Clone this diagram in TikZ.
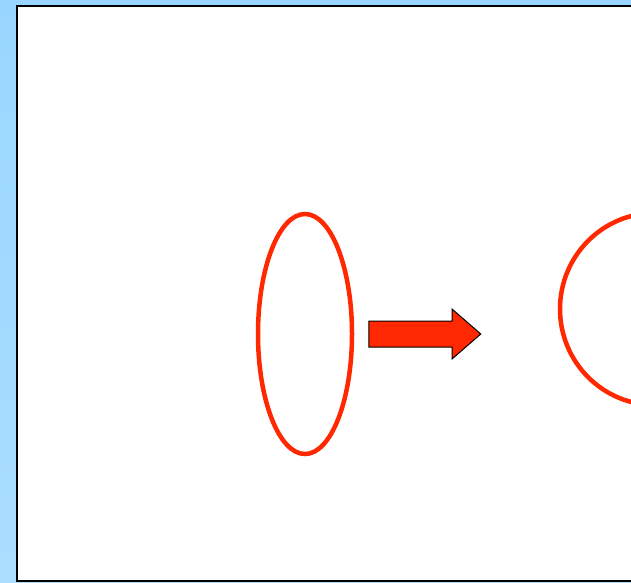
\documentclass[tikz,border=0pt]{standalone}
\usepackage{xcolor}
\usepackage{tikz}
\usetikzlibrary{shapes.geometric,shapes.arrows,positioning}

\definecolor{redline}{RGB}{255,40,0}
\definecolor{skytop}{RGB}{153,214,255}
\definecolor{skybot}{RGB}{170,222,255}

\begin{document}
\begin{tikzpicture}[x=1pt,y=-1pt,
        oval/.style={draw=redline, line width=4.5pt, ellipse, inner sep=0pt},
        blockarrow/.style={single arrow, draw=black, line width=1pt, fill=redline, inner xsep=0pt, inner ysep=12.5pt,
            minimum height=112pt, minimum width=49pt, single arrow head extend=12pt, single arrow tip angle=82}
    ]
        \useasboundingbox (0,0) rectangle (631,582);
        \shade[top color=skytop, bottom color=skybot] (0,0) rectangle (631,582);
        \fill[white] (16.5,5.5) rectangle (640,581);
        \draw[line width=2pt] (640,5.5) -- (16.5,5.5) -- (16.5,581) -- (640,581);

        \begin{scope}
            \clip (0,0) rectangle (631,582);
            \node[oval, minimum width=94pt, minimum height=240pt] (flat) at (305,334) {};
            \node[blockarrow, right=14pt of flat] (turn) {};
            \node[oval, minimum width=190pt, minimum height=192pt] (round) at (655,309) {};
        \end{scope}
    \end{tikzpicture}
\end{document}
